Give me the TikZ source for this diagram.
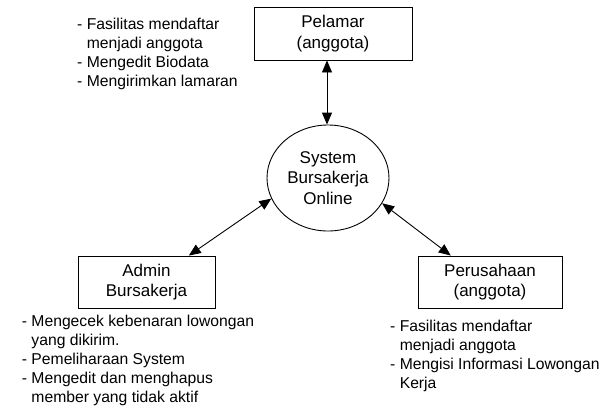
\documentclass[tikz,border=0pt]{standalone}
\usepackage{fontspec}
\setmainfont{Liberation Sans}
\usetikzlibrary{shapes.geometric,arrows.meta}
\begin{document}
\begin{tikzpicture}[x=1pt,y=-1pt,
  box/.style={draw,line width=0.9pt,inner sep=0pt,align=center,font={\fontsize{17}{20.7}\selectfont}},
  note/.style={anchor=north west,inner sep=0pt,align=left,font={\fontsize{15.7}{19}\selectfont}},
  link/.style={line width=0.9pt,{Triangle[length=12pt,width=10pt]}-{Triangle[length=12pt,width=10pt]}}]
\fill[white] (0,0) rectangle (606,408);
\useasboundingbox (0,0) rectangle (606,408);
\node[box,minimum width=158pt,minimum height=53pt] (pel) at (333,33.5) {Pelamar\\(anggota)};
\node[box,minimum width=137pt,minimum height=52pt] (adm) at (146.5,282) {Admin\\Bursakerja};
\node[box,minimum width=144pt,minimum height=52pt] (per) at (490,282) {Perusahaan\\(anggota)};
\node[box,ellipse,minimum width=122pt,minimum height=106pt] (sys) at (328,178) {System\\Bursakerja\\Online};
\node[note] (n1) at (77,18) {- Fasilitas mendaftar\\\hphantom{- }menjadi anggota\\- Mengedit Biodata\\- Mengirimkan lamaran};
\node[note] (n2) at (21.7,315.2) {- Mengecek kebenaran lowongan\\\hphantom{- }yang dikirim.\\- Pemeliharaan System\\- Mengedit dan menghapus\\\hphantom{- }member yang tidak aktif};
\node[note] (n3) at (390,320.2) {- Fasilitas mendaftar\\\hphantom{- }menjadi anggota\\- Mengisi Informasi Lowongan\\\hphantom{- }Kerja};
\draw[link] (sys.north -| 327,0) -- (pel.south -| 327,0);
\draw[link] (adm.32) -- (sys.200);
\draw[link] (per.146) -- (sys.335);
\end{tikzpicture}
\end{document}
